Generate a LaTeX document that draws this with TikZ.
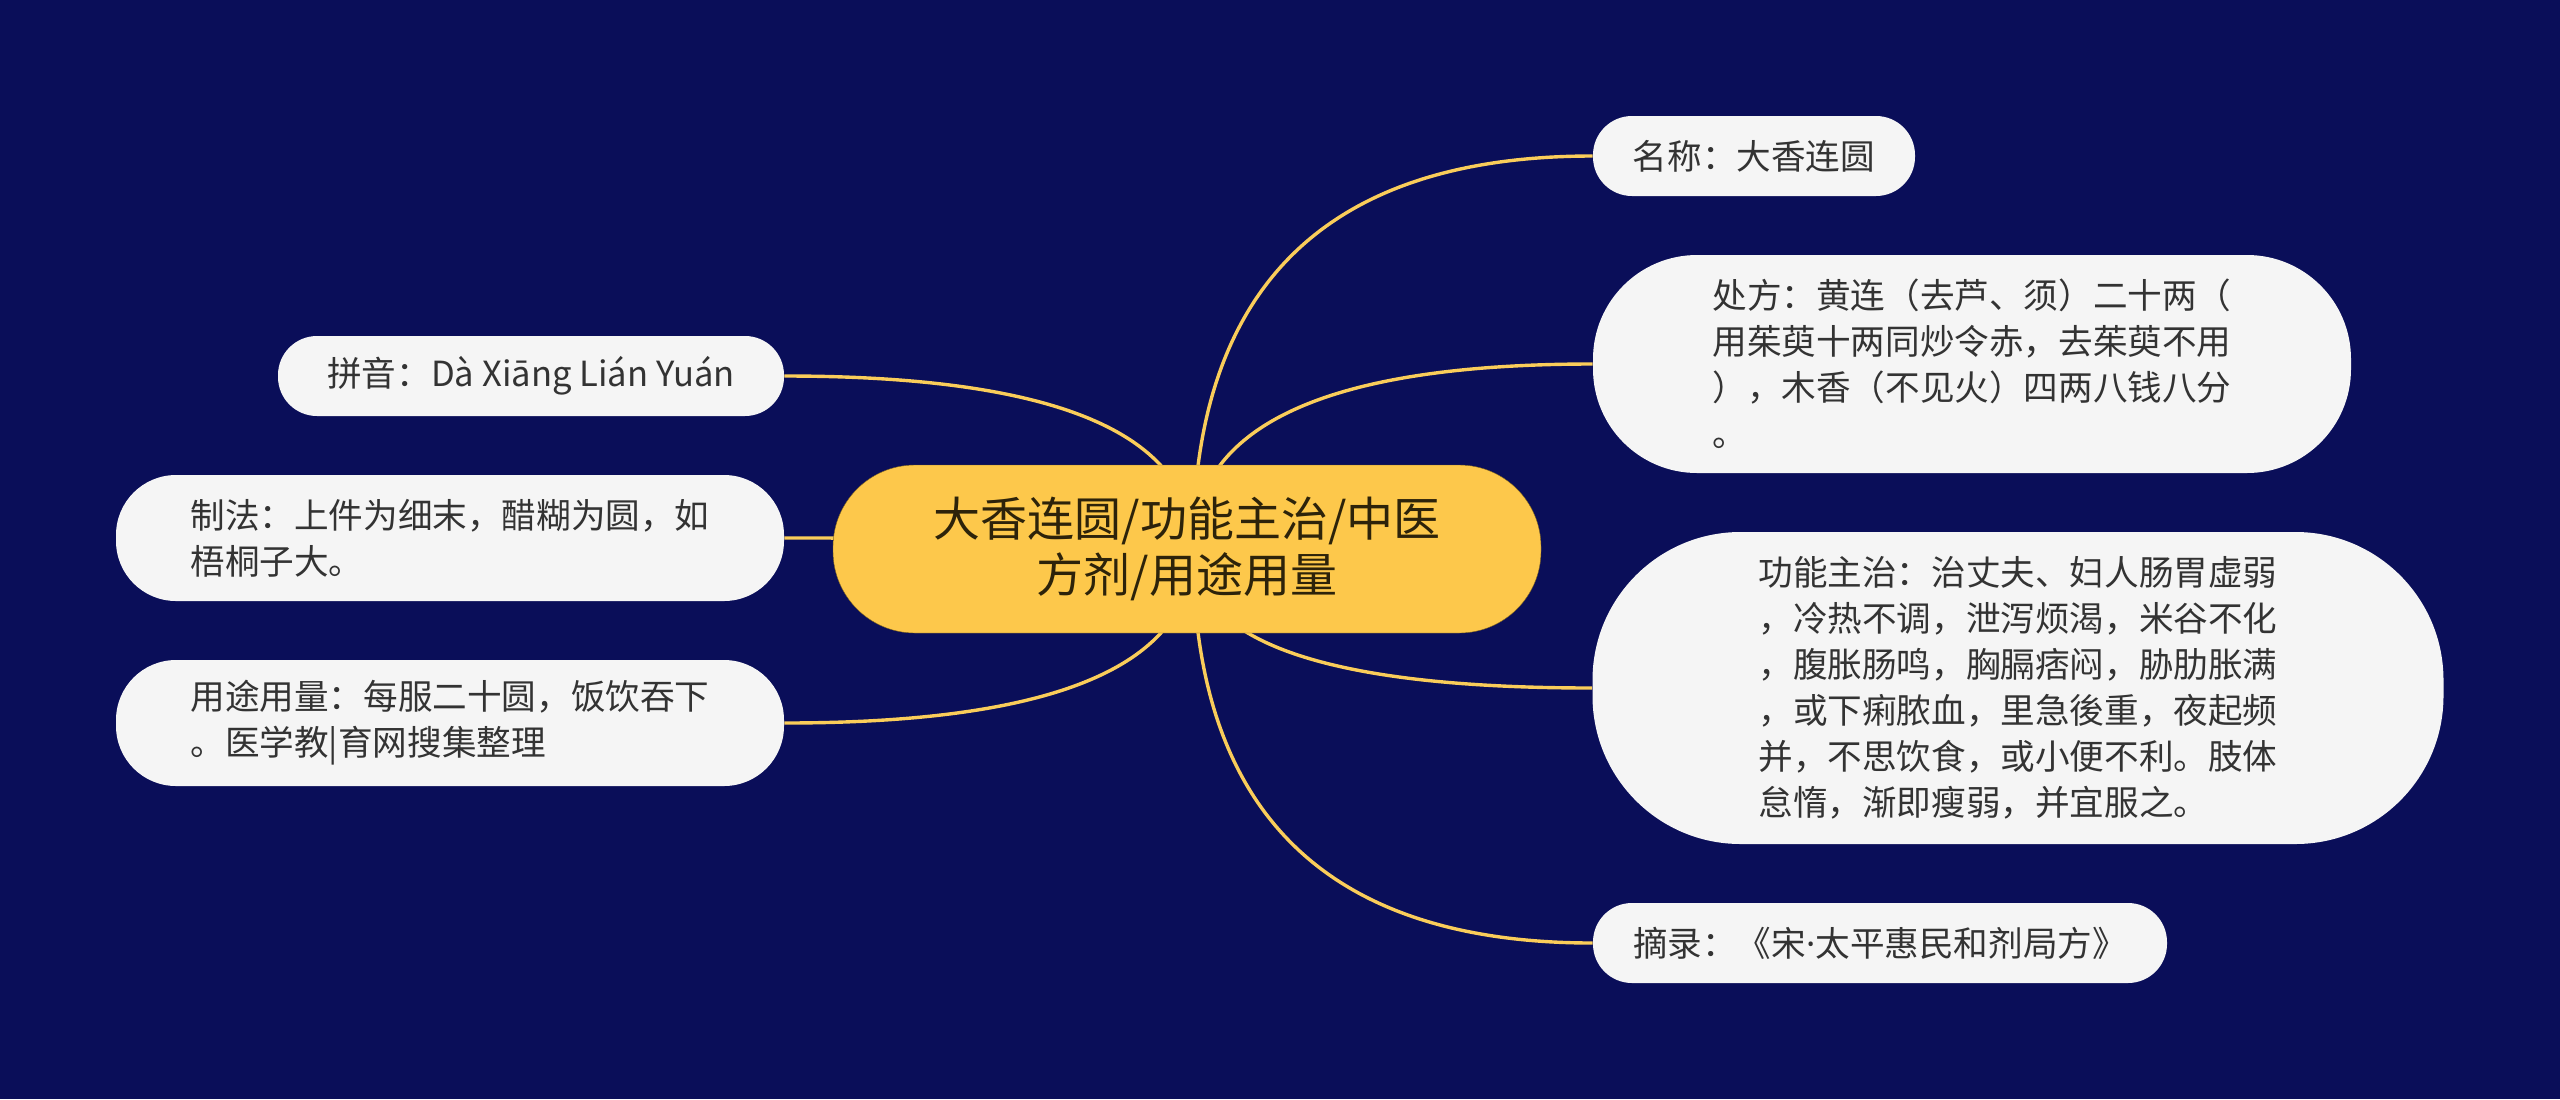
\documentclass[tikz,border=0pt]{standalone}
\usepackage{fontspec}
\setmainfont{Noto Sans CJK SC}
\newfontfamily\latinfont{Noto Sans}
\usetikzlibrary{positioning, backgrounds, calc}
\definecolor{navy}{RGB}{10,14,89}
\definecolor{rootfill}{RGB}{253,200,75}
\definecolor{rootedge}{RGB}{120,95,30}
\definecolor{roottext}{RGB}{45,35,10}
\definecolor{leaffill}{RGB}{245,245,245}
\definecolor{leaftext}{RGB}{51,51,51}
\definecolor{linkyellow}{RGB}{250,205,90}

\begin{document}
\begin{tikzpicture}[
    x=0.5pt, y=-0.5pt,
    root/.style={rectangle, rounded corners=41pt, fill=rootfill, draw=rootedge, very thin, text=roottext, align=center, minimum width=354pt, minimum height=84pt, inner sep=0pt, font=\fontsize{23.5pt}{27.8pt}\selectfont},
    leaf/.style={rectangle, rounded corners=19.5pt, fill=leaffill, text=leaftext, align=left, minimum height=40pt, inner sep=0pt, font=\fontsize{17.3pt}{23pt}\selectfont},
    link/.style={draw=linkyellow, line width=1.7pt},
]
\useasboundingbox (0,0) rectangle (2560,1099);
\node[root] (root) at (1187,549) {大香连圆/功能主治/中医\\方剂/用途用量};
% right side
\node[leaf, minimum width=161pt] (name) at (1754,156) {名称：大香连圆};
\node[leaf, minimum width=379pt, minimum height=109pt, rounded corners=52pt] (recipe) at (1972,364)
    {处方：黄连（去芦、须）二十两（\\用茱萸十两同炒令赤，去茱萸不用\\），木香（不见火）四两八钱八分\\。};
\node[leaf, minimum width=425.5pt, minimum height=156pt, rounded corners=74pt] (func) at (2018,688)
    {功能主治：治丈夫、妇人肠胃虚弱\\，冷热不调，泄泻烦渴，米谷不化\\，腹胀肠鸣，胸膈痞闷，胁肋胀满\\，或下痢脓血，里急後重，夜起频\\并，不思饮食，或小便不利。肢体\\怠惰，渐即瘦弱，并宜服之。};
\node[leaf, minimum width=287pt] (source) at (1880,943) {摘录：《宋{\latinfont ·}太平惠民和剂局方》};
% left side
\node[leaf, minimum width=253pt] (pinyin) at (531,376) {拼音：Dà Xiāng Lián Yuán};
\node[leaf, minimum width=334pt, minimum height=63pt, rounded corners=30pt] (method) at (450,538)
    {制法：上件为细末，醋糊为圆，如\\梧桐子大。};
\node[leaf, minimum width=334pt, minimum height=63pt, rounded corners=30pt] (usage) at (450,723)
    {用途用量：每服二十圆，饭饮吞下\\。医学教|育网搜集整理};
\begin{scope}[on background layer]
\fill[navy] (0,0) rectangle (2560,1099);
\coordinate (hub) at (1193,549);
\foreach \leafname/\side in {name/west, recipe/west, func/west, source/west, pinyin/east, method/east, usage/east}{
    \draw[link] (hub) .. controls ($(hub)!0.667!(hub |- \leafname.\side)$)
        and ($(\leafname.\side)!0.667!(hub |- \leafname.\side)$) .. (\leafname.\side);
}
\end{scope}
\end{tikzpicture}
\end{document}
